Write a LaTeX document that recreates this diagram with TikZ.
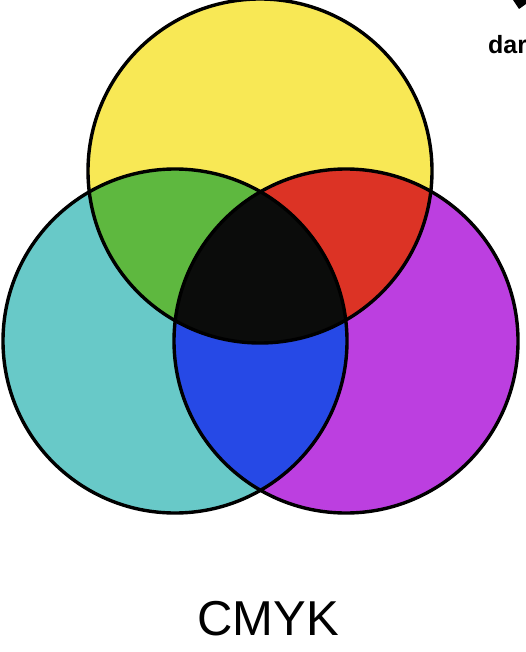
\documentclass[tikz,border=0pt]{standalone}
\usepackage{fontspec}
\setmainfont{Liberation Sans}
\definecolor{cmyY}{HTML}{F8E855}
\definecolor{cmyC}{HTML}{68C9C8}
\definecolor{cmyM}{HTML}{BC3FE0}
\definecolor{cmyG}{HTML}{5EB83F}
\definecolor{cmyR}{HTML}{DC3325}
\definecolor{cmyB}{HTML}{2649E6}
\definecolor{cmyK}{HTML}{0B0C0B}
\begin{document}
\begin{tikzpicture}[x=1pt,y=-1pt,
  ring/.style={draw=black,line width=3.4pt}]
\useasboundingbox (0,0) rectangle (526,652);
\def\Ypath{(260,171) circle[radius=172]}
\def\Cpath{(175,341) circle[radius=172]}
\def\Mpath{(346,341) circle[radius=172]}
\fill[cmyY] \Ypath;
\fill[cmyC] \Cpath;
\fill[cmyM] \Mpath;
\begin{scope}\clip \Ypath; \fill[cmyG] \Cpath; \end{scope}
\begin{scope}\clip \Ypath; \fill[cmyR] \Mpath; \end{scope}
\begin{scope}\clip \Cpath; \fill[cmyB] \Mpath; \end{scope}
\begin{scope}\clip \Ypath; \clip \Cpath; \fill[cmyK] \Mpath; \end{scope}
\draw[ring] \Ypath;
\draw[ring] \Cpath;
\draw[ring] \Mpath;
\node[font=\fontsize{49}{49}\selectfont, anchor=base] (title) at (268,635) {CMYK};
\node[font=\fontsize{25}{25}\selectfont\bfseries, anchor=base west, inner sep=0pt] (note) at (488,54) {dar};
\fill[black] (513,0) -- (519,9) -- (526,4) -- (526,0) -- cycle;
\end{tikzpicture}
\end{document}
